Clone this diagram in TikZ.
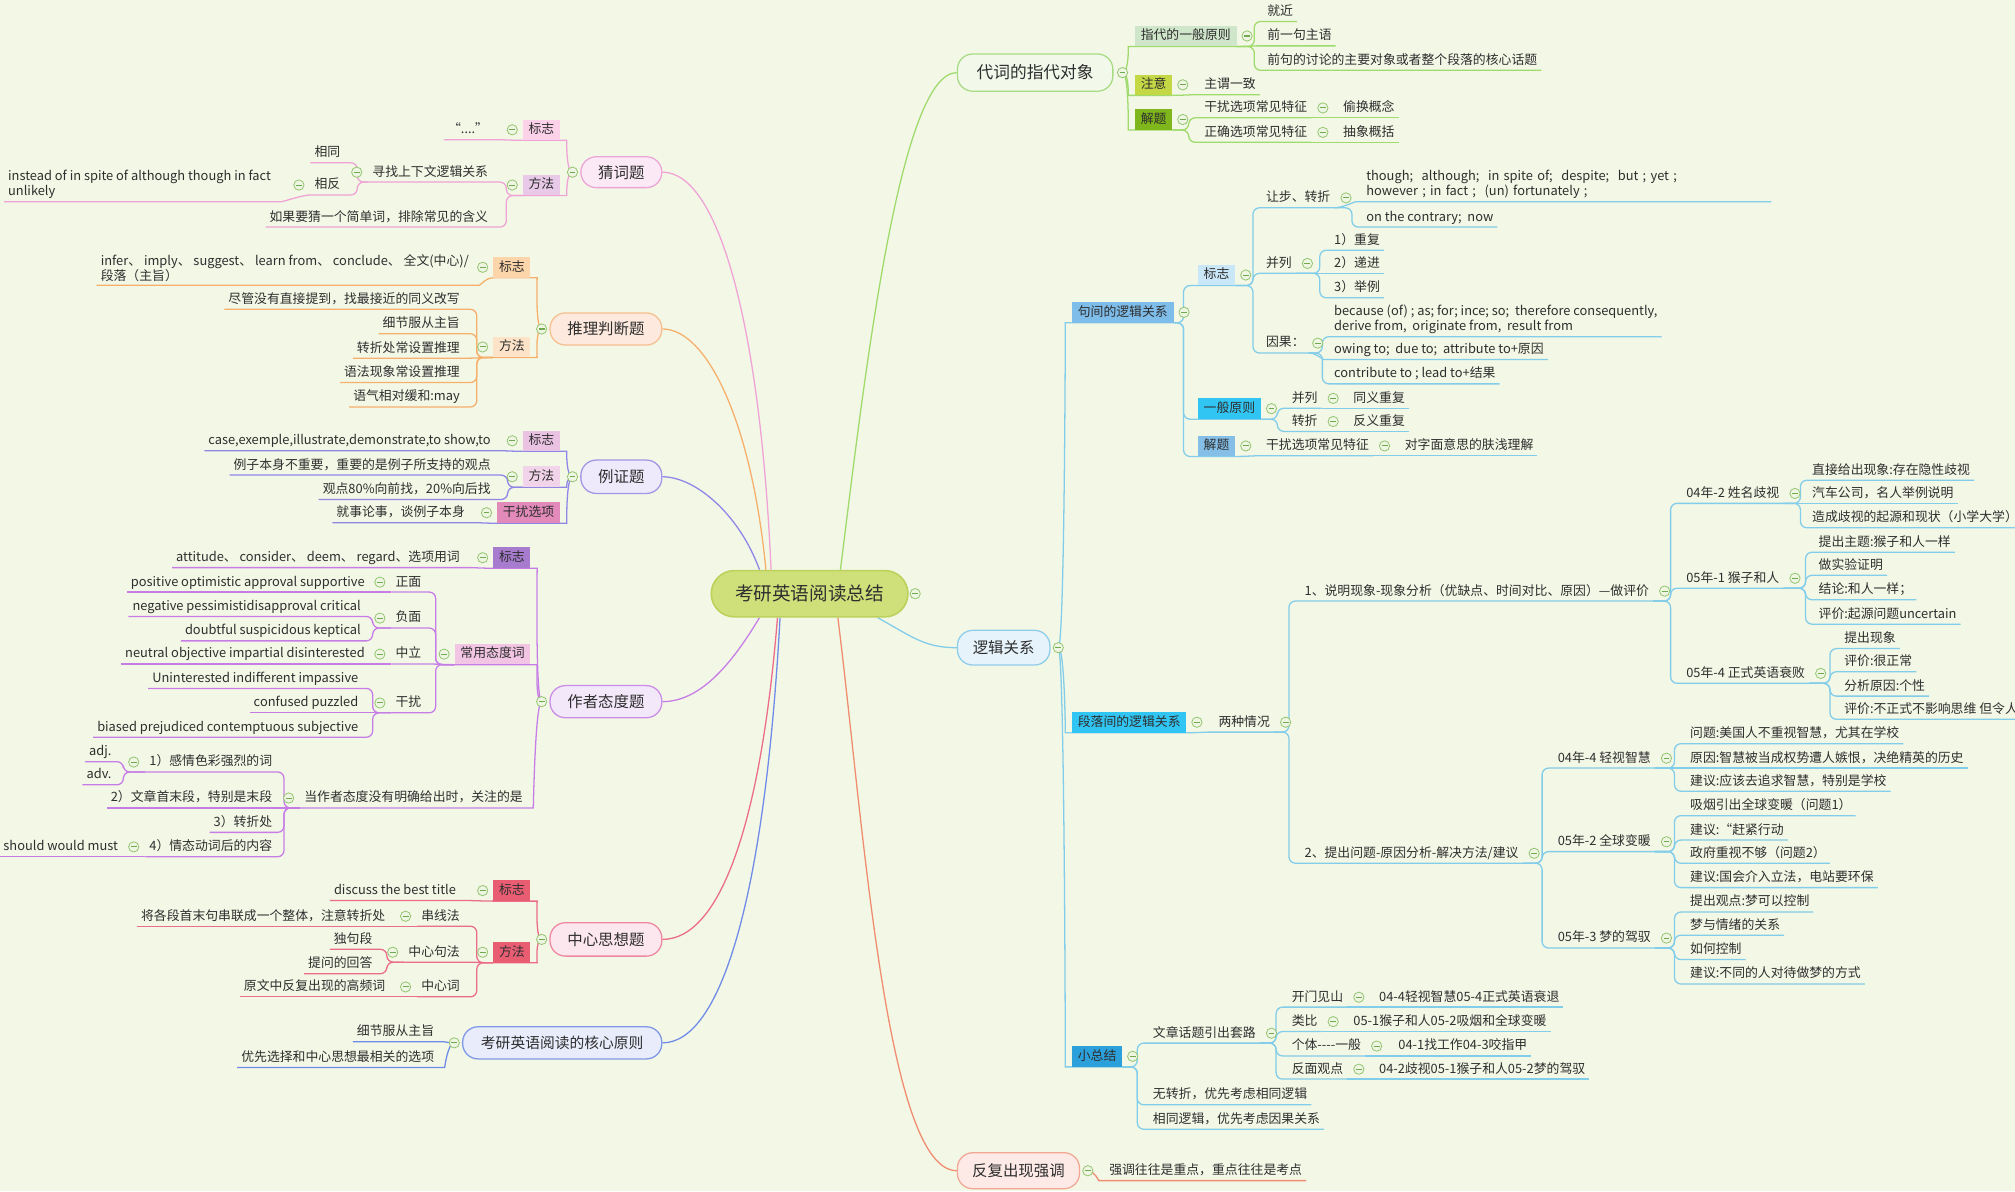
\documentclass[tikz,border=0pt]{standalone}
\usepackage{fontspec}
\setmainfont{Noto Sans CJK SC}
\newcommand\myfs{\fontsize{10}{11.5}\selectfont}
\newcommand\myfm{\fontsize{12}{14}\selectfont}
\newcommand\myfmm{\fontsize{11.5}{13.5}\selectfont}
\newcommand\myfl{\fontsize{13}{15}\selectfont}
\newcommand\myfc{\fontsize{14.5}{17}\selectfont}
\definecolor{bgc}{HTML}{F3F7E6}
\definecolor{txc}{HTML}{2E2E2E}
\definecolor{cenF}{HTML}{CFE07A}
\definecolor{cenB}{HTML}{BCD25C}
\definecolor{ccF}{HTML}{EEF5E2}
\definecolor{ccB}{HTML}{92C46E}
\definecolor{ccM}{HTML}{6FAA4C}
\definecolor{gL}{HTML}{9EDB6C}
\definecolor{P1F}{HTML}{F2F9EB}
\definecolor{P1B}{HTML}{A8DC84}
\definecolor{cB11}{HTML}{CFE6CA}
\definecolor{cB12}{HTML}{C4D845}
\definecolor{cB13}{HTML}{7EB61B}
\definecolor{bL}{HTML}{82CDE9}
\definecolor{P2F}{HTML}{E6F3FA}
\definecolor{P2B}{HTML}{8FCEEA}
\definecolor{cB21}{HTML}{7EBCE9}
\definecolor{cB211}{HTML}{C9E7F6}
\definecolor{cB212}{HTML}{31C5F3}
\definecolor{cB213}{HTML}{85BFE8}
\definecolor{cB22}{HTML}{31C5F3}
\definecolor{cB23}{HTML}{2BA0DA}
\definecolor{sL}{HTML}{F08C70}
\definecolor{P3F}{HTML}{FDEAE6}
\definecolor{P3B}{HTML}{F2A795}
\definecolor{P4L}{HTML}{EFA3D6}
\definecolor{P4F}{HTML}{FBEAF6}
\definecolor{P4B}{HTML}{EBA5D7}
\definecolor{cB41}{HTML}{FBD2E8}
\definecolor{cB42}{HTML}{E8C9E8}
\definecolor{P5L}{HTML}{F6B06C}
\definecolor{P5F}{HTML}{FDE9DD}
\definecolor{P5B}{HTML}{F6C090}
\definecolor{cB51}{HTML}{FCD6AA}
\definecolor{cB52}{HTML}{FDE3C7}
\definecolor{P6L}{HTML}{8F86E6}
\definecolor{P6F}{HTML}{EFEAFB}
\definecolor{P6B}{HTML}{A396E4}
\definecolor{cB61}{HTML}{EAC3E3}
\definecolor{cB62}{HTML}{F2D4EA}
\definecolor{cB63}{HTML}{E28BBA}
\definecolor{P7L}{HTML}{C67EE6}
\definecolor{P7F}{HTML}{F3E8FA}
\definecolor{P7B}{HTML}{CA8EE6}
\definecolor{cB71}{HTML}{A77CCE}
\definecolor{cB72}{HTML}{F1C5E3}
\definecolor{P8L}{HTML}{EB6C8B}
\definecolor{P8F}{HTML}{FDE7EE}
\definecolor{P8B}{HTML}{EE88A2}
\definecolor{cB81}{HTML}{E95D73}
\definecolor{cB82}{HTML}{E95D73}
\definecolor{P9L}{HTML}{6F8BE8}
\definecolor{P9F}{HTML}{E8ECFB}
\definecolor{P9B}{HTML}{8099E6}
\pgfdeclarelayer{back}
\pgfdeclarelayer{bg}
\pgfsetlayers{back,bg,main}
% connectors
\newcommand\xRE[4]{\draw[con=#1] (#2.south east) -- ([xshift=-#3]#4.south west |- #2.south east) -- ([xshift=-#3]#4.south west) -- (#4.south east);}
\newcommand\xLE[4]{\draw[con=#1] (#2.south west) -- ([xshift=#3]#4.south east |- #2.south west) -- ([xshift=#3]#4.south east) -- (#4.south west);}
\newcommand\xRQ[3]{\draw[con=#1] (#2.south east) .. controls +(6,0) and +(-6,0) .. (#3.south west) -- (#3.south east);}
\newcommand\xLQ[3]{\draw[con=#1] (#2.south west) .. controls +(-6,0) and +(6,0) .. (#3.south east) -- (#3.south west);}
\newcommand\xRP[3]{\draw[con=#1] (#2.center) .. controls +(5,0) and +(-5,0) .. (#3.south west) -- (#3.south east);}
\newcommand\xLP[3]{\draw[con=#1] (#2.center) .. controls +(-5,0) and +(5,0) .. (#3.south east) -- (#3.south west);}
\newcommand\cR[2][9]{\node[cc] (#2c) at ([xshift=#1]#2.east) {};}
\newcommand\cL[2][9]{\node[cc] (#2c) at ([xshift=-#1]#2.west) {};}
\begin{document}
\begin{tikzpicture}[x=1pt,y=-1pt,
  tx/.style={font=\myfs, text=txc, inner xsep=3pt, inner ysep=2.5pt, text height=8pt, text depth=2pt},
  rt/.style={tx, anchor=west},
  lt/.style={tx, anchor=east},
  ml/.style={font=\myfs, text=txc, inner xsep=3pt, inner ysep=2.5pt, align=left},
  bx/.style={tx, fill=#1, inner xsep=4.5pt, inner ysep=3pt},
  pill/.style 2 args={draw=#1, fill=#2, line width=1pt, rounded corners=12pt, font=\myfm, text=txc, inner xsep=6pt},
  cen/.style={draw=cenB, fill=cenF, line width=1.3pt, rounded corners=18pt, minimum width=153pt, minimum height=36pt, font=\myfc, text=txc},
  cc/.style={circle, draw=ccB, fill=ccF, line width=0.6pt, minimum size=8pt, inner sep=0pt,
    path picture={\draw[ccM, line width=0.8pt] ([xshift=-2.3pt]path picture bounding box.center) -- ([xshift=2.3pt]path picture bounding box.center);}},
  con/.style={draw=#1, line width=1pt, rounded corners=5pt}]
\begin{pgfonlayer}{back}
\fill[bgc] (0,0) rectangle (1568,927);
\end{pgfonlayer}
\useasboundingbox (0,0) rectangle (1568,927);

% ---------- central ----------
\node[cen] (c0) at (630,462) {考研英语阅读总结};

% ---------- right: 代词的指代对象 ----------
\node[pill={P1B}{P1F}, minimum width=121pt, minimum height=29pt, font=\myfl] (P1) at (805.5,56.5) {代词的指代对象};
\node[bx=cB11, anchor=west] (b11) at (883,28) {指代的一般原则};
\node[rt] (t111) at (983,9) {就近};
\node[rt] (t112) at (983,28) {前一句主语};
\node[rt] (t113) at (983,47) {前句的讨论的主要对象或者整个段落的核心话题};
\node[bx=cB12, anchor=west] (b12) at (883,66) {注意};
\node[rt] (t121) at (934,66) {主谓一致};
\node[bx=cB13, anchor=west] (b13) at (883,93) {解题};
\node[rt] (t131) at (934,84) {干扰选项常见特征};
\node[rt] (t1311) at (1042,84) {偷换概念};
\node[rt] (t132) at (934,103) {正确选项常见特征};
\node[rt] (t1321) at (1042,103) {抽象概括};

% ---------- right: 逻辑关系 ----------
\node[pill={P2B}{P2F}, minimum width=72pt, minimum height=27pt] (P2) at (781,504) {逻辑关系};
\node[bx=cB21, anchor=west] (b21) at (834,243) {句间的逻辑关系};
\node[bx=cB211, anchor=west] (b211) at (932,214) {标志};
\node[rt] (t2111) at (982,154) {让步、转折};
\node[ml, anchor=south west, text width=312pt] (t21111) at (1060,157) {though;\ \ although;\ \ in spite of;\ \ despite;\ \ but ; yet ;\\however ; in fact ;\ \ (un) fortunately ;};
\node[rt] (t21112) at (1060,169) {on the contrary;\ \ now};
\node[rt] (t2112) at (982,205) {并列};
\node[rt] (t21121) at (1035,187) {1）重复};
\node[rt] (t21122) at (1035,205) {2）递进};
\node[rt] (t21123) at (1035,224) {3）举例};
\node[rt] (t2113) at (982,267) {因果：};
\node[ml, anchor=south west] (t21131) at (1035,262) {because (of) ; as; for; ince; so;\ \ therefore consequently,\\derive from,\ \ originate from,\ \ result from};
\node[rt] (t21132) at (1035,272) {owing to;\ \ due to;\ \ attribute to+原因};
\node[rt] (t21133) at (1035,291) {contribute to ; lead to+结果};
\node[bx=cB212, anchor=west] (b212) at (932,318) {一般原则};
\node[rt] (t2121) at (1002,310) {并列};
\node[rt] (t21211) at (1050,310) {同义重复};
\node[rt] (t2122) at (1002,328) {转折};
\node[rt] (t21221) at (1050,328) {反义重复};
\node[bx=cB213, anchor=west] (b213) at (932,347) {解题};
\node[rt] (t2131) at (982,347) {干扰选项常见特征};
\node[rt] (t21311) at (1090,347) {对字面意思的肤浅理解};
\node[bx=cB22, anchor=west] (b22) at (834,562) {段落间的逻辑关系};
\node[rt] (t221) at (945,562) {两种情况};
\node[rt] (t2211) at (1012,460) {1、说明现象-现象分析（优缺点、时间对比、原因）—做评价};
\node[rt] (t22111) at (1309,384) {04年-2 姓名歧视};
\node[rt] (u1) at (1407,366) {直接给出现象:存在隐性歧视};
\node[rt] (u2) at (1407,384) {汽车公司，名人举例说明};
\node[rt] (u3) at (1407,403) {造成歧视的起源和现状（小学大学）};
\node[rt] (t22112) at (1309,450) {05年-1 猴子和人};
\node[rt] (v1) at (1412,422) {提出主题:猴子和人一样};
\node[rt] (v2) at (1412,440) {做实验证明};
\node[rt] (v3) at (1412,459) {结论:和人一样；};
\node[rt] (v4) at (1412,478) {评价:起源问题uncertain};
\node[rt] (t22113) at (1309,524) {05年-4 正式英语衰败};
\node[rt] (w1) at (1432,497) {提出现象};
\node[rt] (w2) at (1432,515) {评价:很正常};
\node[rt] (w3) at (1432,534) {分析原因:个性};
\node[rt] (w4) at (1432,552) {评价:不正式不影响思维 但令人};
\node[rt] (t2212) at (1012,664) {2、提出问题-原因分析-解决方法/建议};
\node[rt] (t22121) at (1209,590) {04年-4 轻视智慧};
\node[rt] (p1) at (1312,571) {问题:美国人不重视智慧，尤其在学校};
\node[rt] (p2) at (1312,590) {原因:智慧被当成权势遭人嫉恨，决绝精英的历史};
\node[rt] (p3) at (1312,608) {建议:应该去追求智慧，特别是学校};
\node[rt] (t22122) at (1209,655) {05年-2 全球变暖};
\node[rt] (q1) at (1312,627) {吸烟引出全球变暖（问题1）};
\node[rt] (q2) at (1312,646) {建议:“赶紧行动};
\node[rt] (q3) at (1312,664) {政府重视不够（问题2）};
\node[rt] (q4) at (1312,683) {建议:国会介入立法，电站要环保};
\node[rt] (t22123) at (1209,730) {05年-3 梦的驾驭};
\node[rt] (r1) at (1312,702) {提出观点:梦可以控制};
\node[rt] (r2) at (1312,720) {梦与情绪的关系};
\node[rt] (r3) at (1312,739) {如何控制};
\node[rt] (r4) at (1312,758) {建议:不同的人对待做梦的方式};
\node[bx=cB23, anchor=west] (b23) at (834,822) {小总结};
\node[rt] (t231) at (894,804) {文章话题引出套路};
\node[rt] (t2311) at (1002,776) {开门见山};
\node[rt] (t23111) at (1070,776) {04-4轻视智慧05-4正式英语衰退};
\node[rt] (t2312) at (1002,795) {类比};
\node[rt] (t23121) at (1050,795) {05-1猴子和人05-2吸烟和全球变暖};
\node[rt] (t2313) at (1002,814) {个体-{}-{}-{}-一般};
\node[rt] (t23131) at (1085,814) {04-1找工作04-3咬指甲};
\node[rt] (t2314) at (1002,832) {反面观点};
\node[rt] (t23141) at (1070,832) {04-2歧视05-1猴子和人05-2梦的驾驭};
\node[rt] (t232) at (894,852) {无转折，优先考虑相同逻辑};
\node[rt] (t233) at (894,871) {相同逻辑，优先考虑因果关系};

% ---------- right: 反复出现强调 ----------
\node[pill={P3B}{P3F}, minimum width=95pt, minimum height=28pt] (P3) at (792.5,911) {反复出现强调};
\node[rt] (t31) at (860,911) {强调往往是重点，重点往往是考点};

% ---------- left: 猜词题 ----------
\node[pill={P4B}{P4F}, minimum width=63pt, minimum height=24pt] (P4) at (483.5,134) {猜词题};
\node[bx=cB41, anchor=east] (b41) at (436,101) {标志};
\node[lt] (t411) at (383,101) {“....”};
\node[bx=cB42, anchor=east] (b42) at (436,144) {方法};
\node[lt] (t421) at (383,134) {寻找上下文逻辑关系};
\node[lt] (t4211) at (268,119) {相同};
\node[lt] (t4212) at (268,144) {相反};
\node[ml, anchor=south east] (t42121) at (214,157) {instead of in spite of although though in fact\\unlikely};
\node[lt] (t422) at (383,169) {如果要猜一个简单词，排除常见的含义};

% ---------- left: 推理判断题 ----------
\node[pill={P5B}{P5F}, minimum width=87pt, minimum height=25pt] (P5) at (471.5,256) {推理判断题};
\node[bx=cB51, anchor=east] (b51) at (413,208) {标志};
\node[ml, anchor=south east] (t511) at (368,222) {infer、\ imply、\ suggest、\ learn from、\ conclude、\ 全文(中心)/\\段落（主旨）};
\node[bx=cB52, anchor=east] (b52) at (413,270) {方法};
\node[lt] (t521) at (361,233) {尽管没有直接提到，找最接近的同义改写};
\node[lt] (t522) at (361,252) {细节服从主旨};
\node[lt] (t523) at (361,271) {转折处常设置推理};
\node[lt] (t524) at (361,290) {语法现象常设置推理};
\node[lt] (t525) at (361,309) {语气相对缓和:may};

% ---------- left: 例证题 ----------
\node[pill={P6B}{P6F}, minimum width=63pt, minimum height=26pt] (P6) at (483.5,371) {例证题};
\node[bx=cB61, anchor=east] (b61) at (436,343) {标志};
\node[lt] (t611) at (385,343) {case,exemple,illustrate,demonstrate,to show,to};
\node[bx=cB62, anchor=east] (b62) at (436,371) {方法};
\node[lt] (t621) at (385,362) {例子本身不重要，重要的是例子所支持的观点};
\node[lt] (t622) at (385,381) {观点80\%向前找，20\%向后找};
\node[bx=cB63, anchor=east] (b63) at (436,399) {干扰选项};
\node[lt] (t631) at (365,399) {就事论事，谈例子本身};

% ---------- left: 作者态度题 ----------
\node[pill={P7B}{P7F}, minimum width=87pt, minimum height=25pt] (P7) at (471.5,546) {作者态度题};
\node[bx=cB71, anchor=east] (b71) at (413,434) {标志};
\node[lt] (t711) at (361,434) {attitude、\ consider、\ deem、\ regard、选项用词};
\node[bx=cB72, anchor=east] (b72) at (413,509) {常用态度词};
\node[lt] (t721) at (331,453) {正面};
\node[lt] (t7211) at (287,453) {positive optimistic approval supportive};
\node[lt] (t722) at (331,481) {负面};
\node[lt] (t7221) at (284,472) {negative pessimistidisapproval critical};
\node[lt] (t7222) at (284,491) {doubtful suspicidous keptical};
\node[lt] (t723) at (331,509) {中立};
\node[lt] (t7231) at (287,509) {neutral objective impartial disinterested};
\node[lt] (t724) at (331,547) {干扰};
\node[lt] (t7241) at (282,528) {Uninterested indifferent impassive};
\node[lt] (t7242) at (282,547) {confused puzzled};
\node[lt] (t7243) at (282,566) {biased prejudiced contemptuous subjective};
\node[lt] (t73) at (410,621) {当作者态度没有明确给出时，关注的是};
\node[lt] (t731) at (215,593) {1）感情色彩强烈的词};
\node[lt] (t7311) at (90,585) {adj.};
\node[lt] (t7312) at (90,603) {adv.};
\node[lt] (t732) at (215,621) {2）文章首末段，特别是末段};
\node[lt] (t733) at (215,640) {3）转折处};
\node[lt] (t734) at (215,659) {4）情态动词后的内容};
\node[lt] (t7341) at (95,659) {should would must};

% ---------- left: 中心思想题 ----------
\node[pill={P8B}{P8F}, minimum width=87pt, minimum height=26pt] (P8) at (471.5,731) {中心思想题};
\node[bx=cB81, anchor=east] (b81) at (413,693) {标志};
\node[lt] (t811) at (358,693) {discuss the best title};
\node[bx=cB82, anchor=east] (b82) at (413,741) {方法};
\node[lt] (t821) at (361,713) {串线法};
\node[lt] (t8211) at (303,713) {将各段首末句串联成一个整体，注意转折处};
\node[lt] (t822) at (361,741) {中心句法};
\node[lt] (t8221) at (293,731) {独句段};
\node[lt] (t8222) at (293,750) {提问的回答};
\node[lt] (t823) at (361,768) {中心词};
\node[lt] (t8231) at (303,768) {原文中反复出现的高频词};

% ---------- left: 核心原则 ----------
\node[pill={P9B}{P9F}, minimum width=155pt, minimum height=25pt, font=\myfmm] (P9) at (437.5,811.5) {考研英语阅读的核心原则};
\node[lt] (t91) at (341,803) {细节服从主旨};
\node[lt] (t92) at (341,823) {优先选择和中心思想最相关的选项};

% ---------- collapse circles ----------
\cR[5]{c0} \cR[7]{P1} \cR[8]{b11} \cR[8]{b12} \cR[8]{b13} \cR{t131} \cR{t132}
\cR[6]{P2} \cR[8]{b21} \cR[8]{b211} \cR{t2111} \cR{t2112} \cR[7]{t2113} \cR[8]{b212} \cR{t2121} \cR{t2122}
\cR[8]{b213} \cR{t2131} \cR[8]{b22} \cR{t221} \cR{t2211} \cR{t22111} \cR{t22112} \cR{t22113}
\cR{t2212} \cR{t22121} \cR{t22122} \cR{t22123} \cR[8]{b23} \cR{t231} \cR{t2311} \cR{t2312} \cR{t2313} \cR{t2314} \cR[6]{P3}
\cL[6]{P4} \cL[8]{b41} \cL[8]{b42} \cL{t421} \cL{t4212}
\cL[6]{P5} \cL[8]{b51} \cL[8]{b52}
\cL[6]{P6} \cL[8]{b61} \cL[8]{b62} \cL[8]{b63}
\cL[6]{P7} \cL[8]{b71} \cL[8]{b72} \cL{t721} \cL{t722} \cL{t723} \cL{t724} \cL{t73} \cL{t731} \cL{t734}
\cL[6]{P8} \cL[8]{b81} \cL[8]{b82} \cL{t821} \cL{t822} \cL{t823}
\cL[6]{P9}

% ---------- connectors ----------
\begin{pgfonlayer}{bg}
% central to main branches
\draw[con=gL] ([xshift=24]c0.north) .. controls +(18,-144) and +(-45,0) .. (P1.west);
\draw[con=bL] ([xshift=53]c0.south) .. controls +(27,15) and +(-25,0) .. (P2.west);
\draw[con=sL] ([xshift=22]c0.south) .. controls +(20,160) and +(-55,0) .. (P3.west);
\draw[con=P4L] ([xshift=-30]c0.north) .. controls +(-8,-184) and +(45,0) .. (P4.east);
\draw[con=P5L] ([xshift=-34]c0.north) .. controls +(-11,-114) and +(35,0) .. (P5.east);
\draw[con=P6L] ([xshift=-39]c0.north) .. controls +(-16,-44) and +(25,0) .. (P6.east);
\draw[con=P7L] ([xshift=-39]c0.south) .. controls +(-21,35) and +(30,0) .. (P7.east);
\draw[con=P8L] ([xshift=-25]c0.south) .. controls +(-13,160) and +(45,0) .. (P8.east);
\draw[con=P9L] ([xshift=-23]c0.south) .. controls +(-12,220) and +(45,0) .. (P9.east);
% 代词的指代对象
\xRP{gL}{P1c}{b11} \xRP{gL}{P1c}{b12} \xRP{gL}{P1c}{b13}
\xRE{gL}{b11}{7}{t111} \xRQ{gL}{b11}{t112} \xRE{gL}{b11}{7}{t113}
\xRQ{gL}{b12}{t121}
\xRE{gL}{b13}{9}{t131} \xRE{gL}{b13}{9}{t132}
\xRQ{gL}{t131}{t1311} \xRQ{gL}{t132}{t1321}
% 逻辑关系
\xRP{bL}{P2c}{b21} \xRP{bL}{P2c}{b22} \xRP{bL}{P2c}{b23}
\xRE{bL}{b21}{11}{b211} \xRE{bL}{b21}{11}{b212} \xRE{bL}{b21}{11}{b213}
\xRE{bL}{b211}{7}{t2111} \xRE{bL}{b211}{7}{t2112} \xRE{bL}{b211}{7}{t2113}
\xRQ{bL}{t2111}{t21111} \xRE{bL}{t2111}{8}{t21112}
\xRE{bL}{t2112}{8}{t21121} \xRQ{bL}{t2112}{t21122} \xRE{bL}{t2112}{8}{t21123}
\xRE{bL}{t2113}{6}{t21131} \xRQ{bL}{t2113}{t21132} \xRE{bL}{t2113}{6}{t21133}
\xRE{bL}{b212}{8}{t2121} \xRE{bL}{b212}{8}{t2122}
\xRQ{bL}{t2121}{t21211} \xRQ{bL}{t2122}{t21221}
\xRQ{bL}{b213}{t2131} \xRQ{bL}{t2131}{t21311}
\xRQ{bL}{b22}{t221}
\xRE{bL}{t221}{9}{t2211} \xRE{bL}{t221}{9}{t2212}
\xRE{bL}{t2211}{9}{t22111} \xRE{bL}{t2211}{9}{t22112} \xRE{bL}{t2211}{9}{t22113}
\xRE{bL}{t22111}{6}{u1} \xRQ{bL}{t22111}{u2} \xRE{bL}{t22111}{6}{u3}
\xRE{bL}{t22112}{7}{v1} \xRE{bL}{t22112}{7}{v2} \xRE{bL}{t22112}{7}{v3} \xRE{bL}{t22112}{7}{v4}
\xRE{bL}{t22113}{8}{w1} \xRE{bL}{t22113}{8}{w2} \xRE{bL}{t22113}{8}{w3} \xRE{bL}{t22113}{8}{w4}
\xRE{bL}{t2212}{9}{t22121} \xRE{bL}{t2212}{9}{t22122} \xRE{bL}{t2212}{9}{t22123}
\xRE{bL}{t22121}{9}{p1} \xRQ{bL}{t22121}{p2} \xRE{bL}{t22121}{9}{p3}
\xRE{bL}{t22122}{9}{q1} \xRE{bL}{t22122}{9}{q2} \xRE{bL}{t22122}{9}{q3} \xRE{bL}{t22122}{9}{q4}
\xRE{bL}{t22123}{9}{r1} \xRE{bL}{t22123}{9}{r2} \xRE{bL}{t22123}{9}{r3} \xRE{bL}{t22123}{9}{r4}
\xRE{bL}{b23}{9}{t231} \xRE{bL}{b23}{9}{t232} \xRE{bL}{b23}{9}{t233}
\xRE{bL}{t231}{9}{t2311} \xRE{bL}{t231}{9}{t2312} \xRE{bL}{t231}{9}{t2313} \xRE{bL}{t231}{9}{t2314}
\xRQ{bL}{t2311}{t23111} \xRQ{bL}{t2312}{t23121} \xRQ{bL}{t2313}{t23131} \xRQ{bL}{t2314}{t23141}
% 反复出现强调
\xRP{sL}{P3c}{t31}
% 猜词题
\xLP{P4L}{P4c}{b41} \xLP{P4L}{P4c}{b42}
\xLQ{P4L}{b41}{t411}
\xLE{P4L}{b42}{11}{t421} \xLE{P4L}{b42}{11}{t422}
\xLE{P4L}{t421}{10}{t4211} \xLE{P4L}{t421}{10}{t4212}
\xLQ{P4L}{t4212}{t42121}
% 推理判断题
\xLP{P5L}{P5c}{b51} \xLP{P5L}{P5c}{b52}
\xLQ{P5L}{b51}{t511}
\xLE{P5L}{b52}{10}{t521} \xLE{P5L}{b52}{10}{t522} \xLQ{P5L}{b52}{t523} \xLE{P5L}{b52}{10}{t524} \xLE{P5L}{b52}{10}{t525}
% 例证题
\xLP{P6L}{P6c}{b61} \xLP{P6L}{P6c}{b62} \xLP{P6L}{P6c}{b63}
\xLQ{P6L}{b61}{t611}
\xLE{P6L}{b62}{10}{t621} \xLE{P6L}{b62}{10}{t622}
\xLQ{P6L}{b63}{t631}
% 作者态度题
\xLP{P7L}{P7c}{b71} \xLP{P7L}{P7c}{b72} \xLP{P7L}{P7c}{t73}
\xLQ{P7L}{b71}{t711}
\xLE{P7L}{b72}{8}{t721} \xLE{P7L}{b72}{8}{t722} \xLQ{P7L}{b72}{t723} \xLE{P7L}{b72}{8}{t724}
\xLQ{P7L}{t721}{t7211}
\xLE{P7L}{t722}{6}{t7221} \xLE{P7L}{t722}{6}{t7222}
\xLQ{P7L}{t723}{t7231}
\xLE{P7L}{t724}{8}{t7241} \xLQ{P7L}{t724}{t7242} \xLE{P7L}{t724}{8}{t7243}
\xLE{P7L}{t73}{6}{t731} \xLQ{P7L}{t73}{t732} \xLE{P7L}{t73}{6}{t733} \xLE{P7L}{t73}{6}{t734}
\xLE{P7L}{t731}{6}{t7311} \xLE{P7L}{t731}{6}{t7312}
\xLQ{P7L}{t734}{t7341}
% 中心思想题
\xLP{P8L}{P8c}{b81} \xLP{P8L}{P8c}{b82}
\xLQ{P8L}{b81}{t811}
\xLE{P8L}{b82}{10}{t821} \xLQ{P8L}{b82}{t822} \xLE{P8L}{b82}{10}{t823}
\xLQ{P8L}{t821}{t8211}
\xLE{P8L}{t822}{8}{t8221} \xLE{P8L}{t822}{8}{t8222}
\xLQ{P8L}{t823}{t8231}
% 核心原则
\xLP{P9L}{P9c}{t91} \xLP{P9L}{P9c}{t92}
\end{pgfonlayer}
\end{tikzpicture}
\end{document}
